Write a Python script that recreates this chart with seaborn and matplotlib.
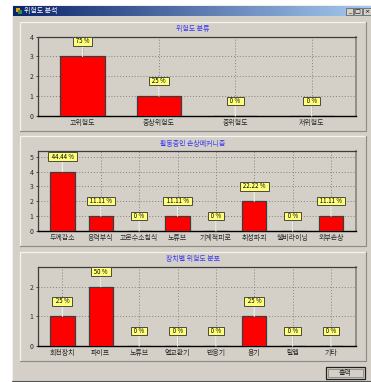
import numpy as np
import matplotlib
matplotlib.use("Agg")
import matplotlib.pyplot as plt
from matplotlib.patches import Rectangle
import seaborn as sns

sns.set_theme(style="white")
plt.rcParams["font.family"] = ["Noto Sans CJK KR", "DejaVu Sans"]

# Risk grade counts
grade_cats = ["고위험도", "중상위험도", "중위험도", "저위험도"]
grade_vals = [3, 1, 0, 0]
grade_pcts = ["75 %", "25 %", "0 %", "0 %"]

# Active damage mechanisms
mech_cats = ["두께감소", "응력부식", "고온수소침식", "노튜브", "기계적피로", "취성파괴", "쉘비라이닝", "외부손상"]
mech_vals = [4, 1, 0, 1, 0, 2, 0, 1]
mech_pcts = ["44.44 %", "11.11 %", "0 %", "11.11 %", "0 %", "22.22 %", "0 %", "11.11 %"]

# Risk by equipment type
equip_cats = ["회전장치", "파이프", "노튜브", "열교환기", "반응기", "용기", "탈렙", "기타"]
equip_vals = [1, 2, 0, 0, 0, 1, 0, 0]
equip_pcts = ["25 %", "50 %", "0 %", "0 %", "0 %", "25 %", "0 %", "0 %"]

W, H = 371, 382
FACE = "#d4d0c8"
BLUE = "#3a3af0"
TXT = "#2a2a2a"
FS = 5.0

fig = plt.figure(figsize=(W / 100, H / 100), dpi=100, facecolor="white")

# Window chrome, laid out in pixel units
bg = fig.add_axes([0, 0, 1, 1])
bg.set_xlim(0, W)
bg.set_ylim(H, 0)
bg.axis("off")
bg.add_patch(Rectangle((12, 5), W - 12, 376, fc=FACE, ec="#efeee9", lw=0.8))
bg.plot([12, W], [381, 381], color="#555555", lw=0.8)

gradient = np.linspace(0, 1, 256)[None, :]
cmap = matplotlib.colors.LinearSegmentedColormap.from_list("caption", ["#0a246a", "#a6caf0"])
bg.imshow(gradient, extent=(13, W, 16, 6), cmap=cmap, aspect="auto", zorder=1)
bg.set_xlim(0, W)
bg.set_ylim(H, 0)
bg.text(24, 11, "위험도 분석", color="white", fontsize=FS, va="center", ha="left", zorder=3)
bg.add_patch(Rectangle((16, 7.5), 3.5, 4, fc="#e0a020", ec="none", zorder=3))
bg.add_patch(Rectangle((18, 9.5), 3.5, 4, fc="#2f8f3f", ec="none", zorder=3))

for x0, glyph in zip((345.5, 354, 363), ("_", "□", "×")):
    bg.add_patch(Rectangle((x0, 8), 7.5, 7, fc=FACE, ec="#555555", lw=0.5, zorder=3))
    bg.text(x0 + 3.7, 11.2, glyph, color="black", fontsize=4.5, ha="center", va="center",
            family="DejaVu Sans", zorder=4)

for top, bottom in ((21.5, 131), (136, 246), (251.5, 361)):
    bg.add_patch(Rectangle((19.5, top), 346.5, bottom - top, fc="none", ec="#f4f3ef", lw=0.9))
    bg.plot([19.5, 366, 366], [bottom, bottom, top], color="#8f8c86", lw=0.9)

bg.add_patch(Rectangle((325.5, 367), 39, 12, fc=FACE, ec="#222222", lw=0.9))
bg.add_patch(Rectangle((327.5, 369), 35, 8, fc="none", ec="#8a8780", lw=0.6))
bg.text(345, 372.8, "출력", color=TXT, fontsize=FS, ha="center", va="center")


def panel(cats, vals, pcts, title, top, xlim, ylim, bar_w, title_y):
    left, right, height = 37.5, 356, 79.5
    ax = fig.add_axes([left / W, 1 - (top + height) / H, (right - left) / W, height / H])
    ax.set_facecolor(FACE)
    sns.barplot(x=cats, y=vals, color="#ff0000", saturation=1, width=bar_w,
                edgecolor="#3c3c3c", linewidth=0.9, ax=ax, zorder=3)
    ax.set_xlim(*xlim)
    ax.set_ylim(*ylim)
    ax.set_yticks(range(int(ylim[1]) + 1))
    ax.set_axisbelow(True)
    ax.grid(True, color="#85827c", linestyle=(0, (1, 2)), linewidth=0.7)
    ax.tick_params(axis="y", length=1.5, width=0.6, pad=1.5, labelsize=FS, labelcolor=TXT, color="#333333", left=True)
    ax.tick_params(axis="x", length=0, pad=2.0, labelsize=FS, labelcolor=TXT)
    ax.set_xlabel("")
    ax.set_ylabel("")
    for side in ("top", "left"):
        ax.spines[side].set_color("#3c3c3c")
        ax.spines[side].set_linewidth(0.9)
    ax.spines["right"].set_color("#85827c")
    ax.spines["right"].set_linewidth(1.2)
    ax.spines["bottom"].set_color("black")
    ax.spines["bottom"].set_linewidth(1.0)
    ax.spines["bottom"].set_linestyle((0, (1.5, 1)))

    # Percentage callouts sit a fixed distance above each bar
    for i, (v, label) in enumerate(zip(vals, pcts)):
        ax.annotate(f"  {label}  ", xy=(i, v), xytext=(0, 10.8), textcoords="offset points",
                    ha="center", va="center", fontsize=4.4, color="black", zorder=6,
                    annotation_clip=False,
                    bbox=dict(boxstyle="square,pad=0.05", fc="#ffff7a", ec="#4a4a40", lw=0.7),
                    arrowprops=dict(arrowstyle="-", color="#eeeeea", lw=0.9, shrinkA=0, shrinkB=0))
    bg.text(193, title_y, title, color=BLUE, fontsize=FS, ha="center", va="center")
    return ax


panel(grade_cats, grade_vals, grade_pcts, "위험도 분류", 36.5, (-0.59, 3.58), (0, 4), 0.58, 29)
panel(mech_cats, mech_vals, mech_pcts, "활동중인 손상메커니즘", 151.5, (-0.65, 7.65), (0, 5.35), 0.63, 144)
panel(equip_cats, equip_vals, equip_pcts, "장치별 위험도 분포", 266.5, (-0.65, 7.65), (0, 2.68), 0.63, 259)

fig.savefig("out.png", dpi=100, facecolor="white")
